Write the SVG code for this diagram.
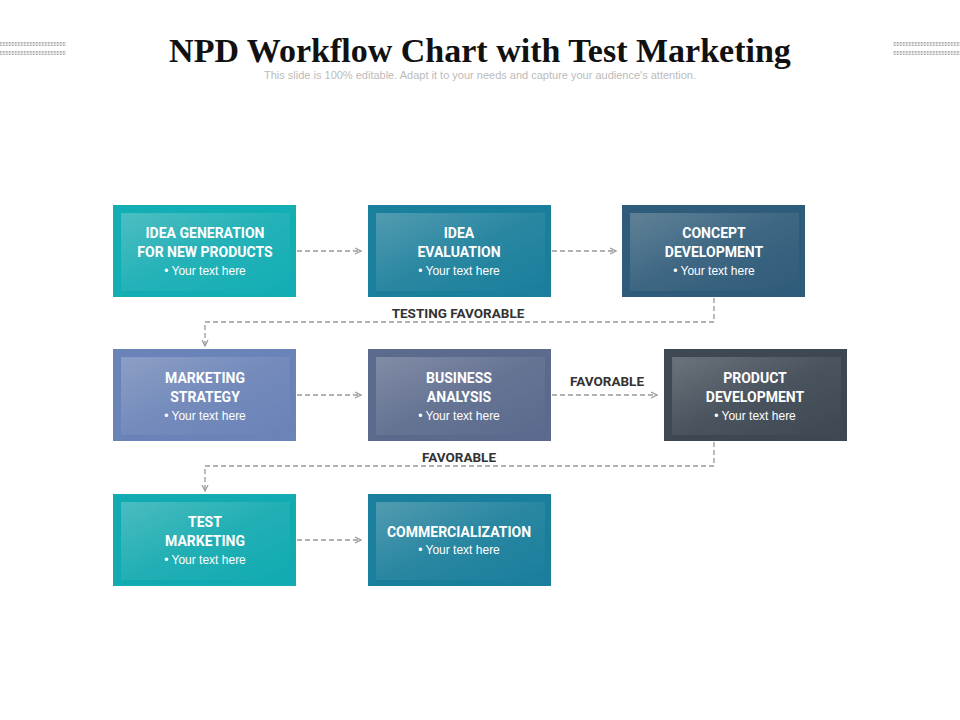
<svg xmlns="http://www.w3.org/2000/svg" width="960" height="720" viewBox="0 0 960 720">
<defs>
<linearGradient id="sh" x1="0" y1="0" x2="1" y2="1"><stop offset="0" stop-color="#fff" stop-opacity="0.22"/><stop offset="0.5" stop-color="#fff" stop-opacity="0.06"/><stop offset="1" stop-color="#fff" stop-opacity="0"/></linearGradient>
<filter id="ds" x="-10%" y="-10%" width="130%" height="130%"><feDropShadow dx="2" dy="2" stdDeviation="1.5" flood-color="#000" flood-opacity="0.3"/></filter>
<pattern id="hatch" width="3" height="3" patternUnits="userSpaceOnUse"><rect width="3" height="3" fill="#e6e6e6"/><rect width="1.5" height="1.5" fill="#aaa"/></pattern>
<marker id="ar" markerWidth="8" markerHeight="8" refX="7" refY="4" orient="auto" markerUnits="userSpaceOnUse"><path d="M1,1 L7,4 L1,7" fill="none" stroke="#999" stroke-width="1.2"/></marker>
</defs>
<style>
.t{font-family:Roboto,"Liberation Sans",sans-serif;font-weight:bold;font-size:14px;fill:#fff;text-anchor:middle}
.b{font-family:"Liberation Sans",Arial,sans-serif;font-size:12px;fill:#fff;text-anchor:middle}
.l{font-family:Roboto,"Liberation Sans",sans-serif;font-weight:bold;font-size:13.5px;fill:#333;text-anchor:middle}
.c{fill:none;stroke:#999;stroke-width:1.3;stroke-dasharray:5,3}
.in{fill:url(#sh);filter:url(#ds)}
</style>
<rect width="960" height="720" fill="#fff"/>
<rect x="0" y="42" width="66" height="4" fill="url(#hatch)"/><rect x="0" y="51" width="66" height="4" fill="url(#hatch)"/>
<rect x="893" y="42" width="67" height="4" fill="url(#hatch)"/><rect x="893" y="51" width="67" height="4" fill="url(#hatch)"/>
<text x="480" y="62" text-anchor="middle" font-family="'Liberation Serif','Times New Roman',serif" font-weight="bold" font-size="34" fill="#111">NPD Workflow Chart with Test Marketing</text>
<text x="480" y="79" text-anchor="middle" font-family="'Liberation Sans',Arial,sans-serif" font-size="11" fill="#bbb">This slide is 100% editable. Adapt it to your needs and capture your audience's attention.</text>
<g id="connectors">
<path class="c" d="M297,251 H361" marker-end="url(#ar)"/>
<path class="c" d="M552,251 H616" marker-end="url(#ar)"/>
<path class="c" d="M714,298 V322 H205 V346" marker-end="url(#ar)"/>
<path class="c" d="M297,395 H361" marker-end="url(#ar)"/>
<path class="c" d="M552,395 H657" marker-end="url(#ar)"/>
<path class="c" d="M714,442 V466 H205 V491" marker-end="url(#ar)"/>
<path class="c" d="M297,540 H361" marker-end="url(#ar)"/>
<text class="l" x="458" y="318">TESTING FAVORABLE</text>
<text class="l" x="607" y="386">FAVORABLE</text>
<text class="l" x="459" y="462">FAVORABLE</text>
</g>
<g id="n1"><rect x="113" y="205" width="183" height="92" fill="#13aeb4"/><rect class="in" x="121" y="213" width="169" height="78" fill="#13aeb4"/><text class="t" x="205" y="238">IDEA GENERATION</text><text class="t" x="205" y="257">FOR NEW PRODUCTS</text><text class="b" x="205" y="275">•   Your text here</text></g>
<g id="n2"><rect x="368" y="205" width="183" height="92" fill="#1a7f9c"/><rect class="in" x="376" y="213" width="169" height="78" fill="#1a7f9c"/><text class="t" x="459" y="238">IDEA</text><text class="t" x="459" y="257">EVALUATION</text><text class="b" x="459" y="275">•   Your text here</text></g>
<g id="n3"><rect x="622" y="205" width="183" height="92" fill="#2f5c7a"/><rect class="in" x="630" y="213" width="169" height="78" fill="#2f5c7a"/><text class="t" x="714" y="238">CONCEPT</text><text class="t" x="714" y="257">DEVELOPMENT</text><text class="b" x="714" y="275">•   Your text here</text></g>
<g id="n4"><rect x="113" y="349" width="183" height="92" fill="#6a83b8"/><rect class="in" x="121" y="357" width="169" height="78" fill="#6a83b8"/><text class="t" x="205" y="383">MARKETING</text><text class="t" x="205" y="402">STRATEGY</text><text class="b" x="205" y="420">•   Your text here</text></g>
<g id="n5"><rect x="368" y="349" width="183" height="92" fill="#5b6a8d"/><rect class="in" x="376" y="357" width="169" height="78" fill="#5b6a8d"/><text class="t" x="459" y="383">BUSINESS</text><text class="t" x="459" y="402">ANALYSIS</text><text class="b" x="459" y="420">•   Your text here</text></g>
<g id="n6"><rect x="664" y="349" width="183" height="92" fill="#3d4853"/><rect class="in" x="672" y="357" width="169" height="78" fill="#3d4853"/><text class="t" x="755" y="383">PRODUCT</text><text class="t" x="755" y="402">DEVELOPMENT</text><text class="b" x="755" y="420">•   Your text here</text></g>
<g id="n7"><rect x="113" y="494" width="183" height="92" fill="#11abb1"/><rect class="in" x="121" y="502" width="169" height="78" fill="#11abb1"/><text class="t" x="205" y="527">TEST</text><text class="t" x="205" y="546">MARKETING</text><text class="b" x="205" y="564">•   Your text here</text></g>
<g id="n8"><rect x="368" y="494" width="183" height="92" fill="#1a7f9c"/><rect class="in" x="376" y="502" width="169" height="78" fill="#1a7f9c"/><text class="t" x="459" y="537">COMMERCIALIZATION</text><text class="b" x="459" y="554">•   Your text here</text></g>
</svg>
